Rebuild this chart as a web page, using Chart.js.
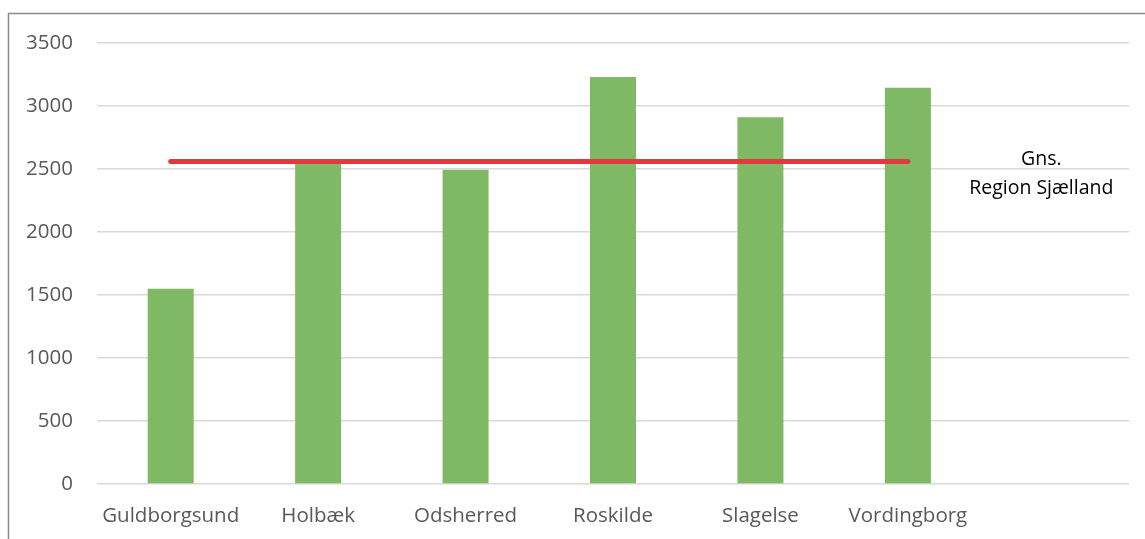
<!DOCTYPE html>
<html>
<head>
<meta charset="utf-8">
<script src="https://cdn.jsdelivr.net/npm/chart.js@4/dist/chart.umd.min.js"></script>
<style>
  html, body { margin: 0; padding: 0; background: #fff; }
  #wrap { width: 1145px; height: 539px; position: relative; }
</style>
</head>
<body>
<div id="wrap"><canvas id="chart"></canvas></div>
<script>
// kommuner, sidste kategori er tom (plads til teksten)
var kommuner = ['Guldborgsund', 'Holbæk', 'Odsherred', 'Roskilde', 'Slagelse', 'Vordingborg', ''];
var vaerdier = [1550, 2565, 2495, 3230, 2910, 3145, null];
var gennemsnit = [2560, 2560, 2560, 2560, 2560, 2560, null];
var gnsTekst = ['Gns.', 'Region Sjælland'];
var yTicks = [0, 500, 1000, 1500, 2000, 2500, 3000, 3500];

var FONT = '"Open Sans", "Liberation Sans", sans-serif';

// ramme + tekstboks
var extras = {
  id: 'extras',
  afterDraw: function (chart) {
    var ctx = chart.ctx;
    ctx.save();
    ctx.strokeStyle = '#8a8a8a';
    ctx.lineWidth = 1.5;
    ctx.beginPath();
    ctx.moveTo(8.5, 560);
    ctx.lineTo(8.5, 13.5);
    ctx.lineTo(1160, 13.5);
    ctx.stroke();

    var x = chart.scales.x.getPixelForValue(6) - 14;
    var y = chart.scales.y.getPixelForValue(gennemsnit[0]);
    ctx.fillStyle = '#000';
    ctx.font = '19.5px ' + FONT;
    ctx.textAlign = 'center';
    ctx.textBaseline = 'middle';
    ctx.fillText(gnsTekst[0], x, y - 2);
    ctx.fillText(gnsTekst[1], x, y + 27);
    ctx.restore();
  }
};

new Chart(document.getElementById('chart').getContext('2d'), {
  type: 'bar',
  data: {
    labels: kommuner,
    datasets: [
      {
        type: 'line',
        data: gennemsnit,
        borderColor: '#e0393e',
        borderWidth: 5,
        borderCapStyle: 'round',
        pointRadius: 0,
        fill: false,
        order: 0
      },
      {
        data: vaerdier,
        backgroundColor: '#7fb964',
        categoryPercentage: 1,
        barPercentage: 0.312,
        order: 1
      }
    ]
  },
  options: {
    responsive: true,
    maintainAspectRatio: false,
    animation: false,
    layout: { padding: { top: 43, right: 16, left: 0, bottom: 0 } },
    plugins: { legend: { display: false }, tooltip: { enabled: false } },
    scales: {
      x: {
        grid: { display: false, drawTicks: false },
        border: { display: false },
        ticks: { color: '#595959', font: { family: FONT, size: 20.5 }, padding: 20, maxRotation: 0, autoSkip: false },
        afterFit: function (s) { s.height = 55; }
      },
      y: {
        min: 0,
        max: 3500,
        afterBuildTicks: function (s) { s.ticks = yTicks.map(function (v) { return { value: v }; }); },
        grid: { color: '#d9d9d9', lineWidth: 1.5, drawTicks: false },
        border: { display: false },
        ticks: {
          color: '#595959',
          font: { family: FONT, size: 20.5 },
          padding: 24,
          callback: function (v) { return String(v); }
        },
        afterFit: function (s) { s.width = 97; }
      }
    }
  },
  plugins: [extras]
});
</script>
</body>
</html>
